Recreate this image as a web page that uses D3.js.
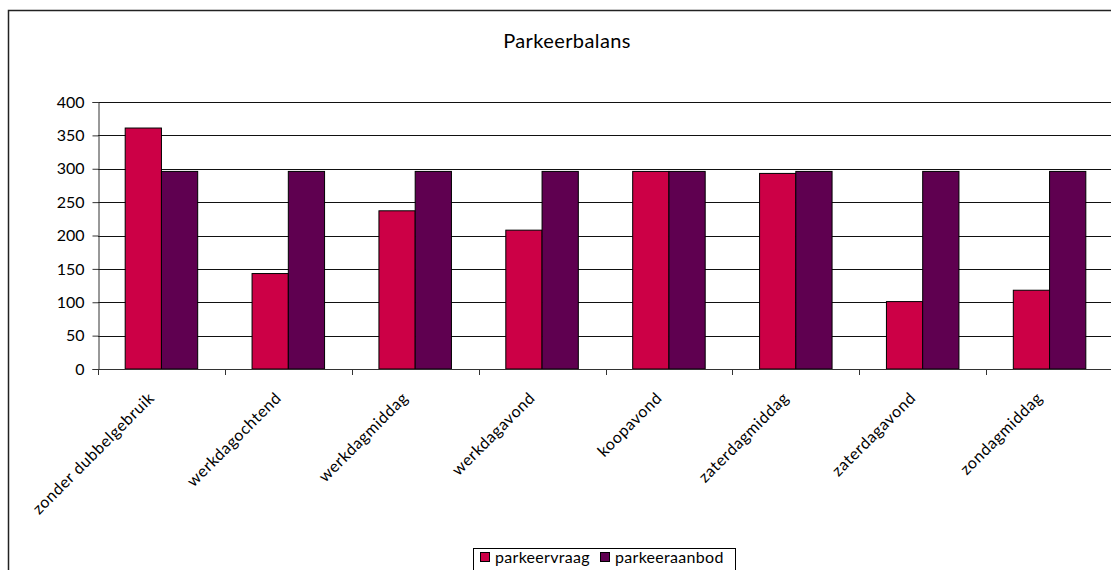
<!DOCTYPE html>
<html>
<head>
<meta charset="utf-8">
<script src="https://cdn.jsdelivr.net/npm/d3@7"></script>
<style>
  body { margin: 0; background: #fff; overflow: hidden; }
  text { font-family: Lato, "Open Sans", sans-serif; fill: #000; }
</style>
</head>
<body>
<div id="chart"></div>
<script>
// parkeerbalans data
var categories = ["zonder dubbelgebruik", "werkdagochtend", "werkdagmiddag", "werkdagavond",
                  "koopavond", "zaterdagmiddag", "zaterdagavond", "zondagmiddag"];
var parkeervraag = [361, 143, 237, 208, 296, 293, 101, 118];
var parkeeraanbod = [296, 296, 296, 296, 296, 296, 296, 296];
var seriesNames = ["parkeervraag", "parkeeraanbod"];
var yTicks = [0, 50, 100, 150, 200, 250, 300, 350, 400];
var colors = ["#cc0046", "#5f0050"];

var svg = d3.select("#chart").append("svg")
    .attr("width", 1111)
    .attr("height", 570);

// outer frame (only left + top visible, rest is cut off)
svg.append("rect")
    .attr("x", 8.5).attr("y", 10.5)
    .attr("width", 1130).attr("height", 600)
    .attr("fill", "none")
    .attr("stroke", "#222")
    .attr("stroke-width", 1.5);

svg.append("text")
    .attr("x", 567).attr("y", 48)
    .attr("text-anchor", "middle")
    .style("font-size", "20px")
    .style("letter-spacing", "0.4px")
    .text("Parkeerbalans");

var plotLeft = 98, plotRight = 1113, plotTop = 102, plotBottom = 369;

var x0 = d3.scaleBand()
    .domain(categories)
    .range([plotLeft, plotRight])
    .paddingInner(1.5 / 3.5)
    .paddingOuter(0.75 / 3.5);

var x1 = d3.scaleBand()
    .domain(seriesNames)
    .range([0, x0.bandwidth()]);

var y = d3.scaleLinear()
    .domain([0, 400])
    .range([plotBottom, plotTop]);

var rows = categories.map(function(c, i) {
  return { cat: c, values: [parkeervraag[i], parkeeraanbod[i]] };
});

// gridlines
svg.append("g")
    .selectAll("line")
    .data(yTicks.slice(1))
    .enter().append("line")
    .attr("x1", plotLeft).attr("x2", plotRight)
    .attr("y1", function(d) { return Math.round(y(d)) + 0.5; })
    .attr("y2", function(d) { return Math.round(y(d)) + 0.5; })
    .attr("stroke", "#111")
    .attr("stroke-width", 1);

// bars
var groups = svg.append("g")
    .selectAll("g")
    .data(rows)
    .enter().append("g")
    .attr("transform", function(d) { return "translate(" + x0(d.cat) + ",0)"; });

groups.selectAll("rect")
    .data(function(d) { return d.values.map(function(v, i) { return { name: seriesNames[i], value: v, i: i }; }); })
    .enter().append("rect")
    .attr("x", function(d) { return x1(d.name); })
    .attr("y", function(d) { return y(d.value); })
    .attr("width", x1.bandwidth())
    .attr("height", function(d) { return plotBottom - y(d.value); })
    .attr("fill", function(d) { return colors[d.i]; })
    .attr("stroke", "#000")
    .attr("stroke-width", 1);

// y axis
var yAxis = svg.append("g")
    .attr("transform", "translate(" + (plotLeft + 0.5) + ",0)")
    .call(d3.axisLeft(y).tickValues(yTicks).tickSize(6).tickPadding(8));
yAxis.selectAll("text").style("font-size", "16px").style("font-family", "Lato, sans-serif");
yAxis.selectAll("line, path").attr("stroke", "#333");

// x axis: ticks between categories
var step = x0.step();
var xTicks = d3.range(categories.length + 1).map(function(k) { return plotLeft + k * step; });
svg.append("line")
    .attr("x1", plotLeft).attr("x2", plotRight)
    .attr("y1", plotBottom + 0.5).attr("y2", plotBottom + 0.5)
    .attr("stroke", "#333");
svg.append("g").selectAll("line")
    .data(xTicks)
    .enter().append("line")
    .attr("x1", function(d) { return Math.round(d) + 0.5; })
    .attr("x2", function(d) { return Math.round(d) + 0.5; })
    .attr("y1", plotBottom).attr("y2", plotBottom + 6)
    .attr("stroke", "#333");

// category labels rotated
svg.append("g").selectAll("text")
    .data(categories)
    .enter().append("text")
    .attr("transform", function(d) {
      return "translate(" + (x0(d) + x0.bandwidth() / 2 - 10) + "," + (plotBottom + 26) + ") rotate(-45)";
    })
    .attr("text-anchor", "end")
    .attr("dy", "0.35em")
    .style("font-size", "16px")
    .style("letter-spacing", "0.6px")
    .text(function(d) { return d; });

// legend
var legend = svg.append("g").attr("transform", "translate(473,548)");
legend.append("rect")
    .attr("x", 0.5).attr("y", 0.5)
    .attr("width", 262).attr("height", 40)
    .attr("fill", "#fff")
    .attr("stroke", "#000");
var legendX = [7, 127];
var items = legend.selectAll("g.item")
    .data(seriesNames)
    .enter().append("g")
    .attr("class", "item")
    .attr("transform", function(d, i) { return "translate(" + legendX[i] + ",0)"; });
items.append("rect")
    .attr("x", 0.5).attr("y", 4.5)
    .attr("width", 9).attr("height", 9)
    .attr("fill", function(d, i) { return colors[i]; })
    .attr("stroke", "#000");
items.append("text")
    .attr("x", 15).attr("y", 15)
    .style("font-size", "16px")
    .style("letter-spacing", "0.3px")
    .text(function(d) { return d; });
</script>
</body>
</html>
